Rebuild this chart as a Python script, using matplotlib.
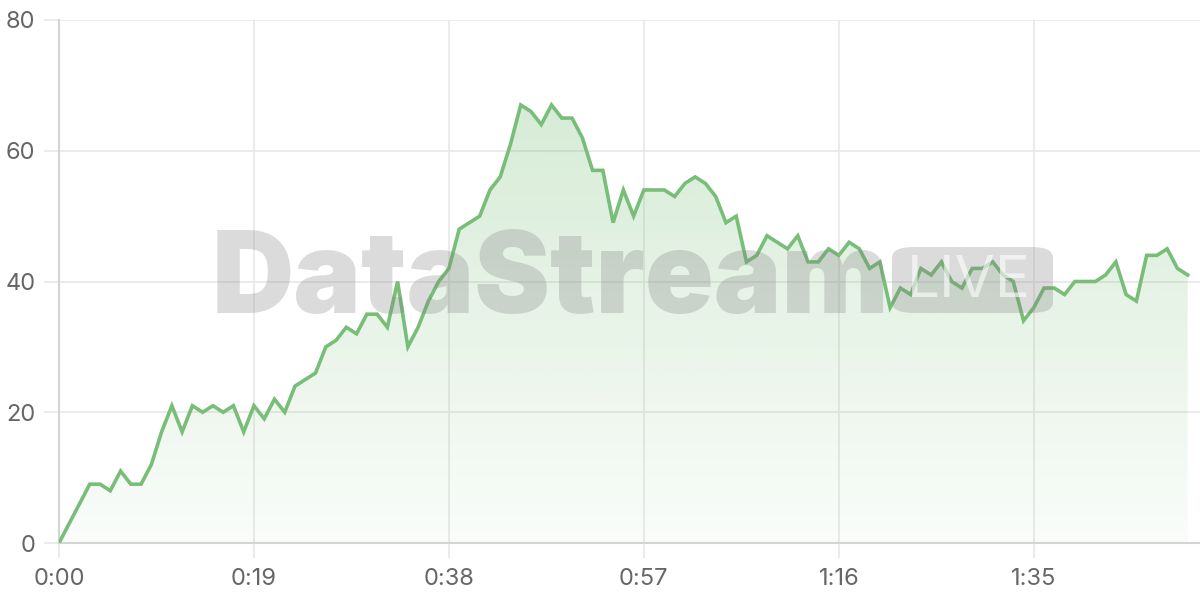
#live viewers chart
#draw a line chart with gradient fill and a watermark
#install lib: matplotlib, numpy

import matplotlib.pyplot as plt
import numpy as np
from matplotlib.patches import FancyBboxPatch

# one value per second, 0:00 .. 1:50
viewers = [0, 3, 6, 9, 9, 8, 11, 9, 9, 12,
           17, 21, 17, 21, 20, 21, 20, 21, 17, 21,
           19, 22, 20, 24, 25, 26, 30, 31, 33, 32,
           35, 35, 33, 40, 30, 33, 37, 40, 42, 48,
           49, 50, 54, 56, 61, 67, 66, 64, 67, 65,
           65, 62, 57, 57, 49, 54, 50, 54, 54, 54,
           53, 55, 56, 55, 53, 49, 50, 43, 44, 47,
           46, 45, 47, 43, 43, 45, 44, 46, 45, 42,
           43, 36, 39, 38, 42, 41, 43, 40, 39, 42,
           42, 43, 41, 40, 34, 36, 39, 39, 38, 40,
           40, 40, 41, 43, 38, 37, 44, 44, 45, 42,
           41]
seconds = list(range(len(viewers)))

x_ticks = [0, 19, 38, 57, 76, 95]
x_tick_labels = ["0:00", "0:19", "0:38", "0:57", "1:16", "1:35"]
y_ticks = [0, 20, 40, 60, 80]

line_color = "#78be78"
grid_color = "#e8e8e8"
text_color = "#666666"

plt.rcParams['font.family'] = ['Inter', 'DejaVu Sans']

W, H = 1200, 600
fig = plt.figure(figsize=(12, 6), dpi=100)
ax = fig.add_axes([59 / W, 57 / H, 1 - 59 / W, 523 / H])

ax.set_xlim(0, 111.2)
ax.set_ylim(0, 80)

# gradient fill under the line
fill = ax.fill_between(seconds, viewers, 0, color="none")
grad = np.linspace(0.04, 0.30, 256).reshape(-1, 1)
rgba = np.zeros((256, 1, 4))
rgba[..., 0] = 120 / 255
rgba[..., 1] = 190 / 255
rgba[..., 2] = 120 / 255
rgba[..., 3] = grad
img = ax.imshow(rgba, extent=[0, seconds[-1], 0, max(viewers)], origin="lower",
                aspect="auto", zorder=1)
img.set_clip_path(fill.get_paths()[0], transform=ax.transData)

ax.plot(seconds, viewers, color=line_color, linewidth=2.6, zorder=4,
        solid_joinstyle="miter")

# watermark, sized so it spans the same width as in the original
renderer = fig.canvas.get_renderer()

wm = fig.text(212 / W, 1 - 313 / H, "DataStream", fontsize=80, fontweight="black",
              color="#808080", alpha=0.28, ha="left", va="baseline", zorder=3)
w = wm.get_window_extent(renderer).width
wm.set_fontsize(80 * 678 / w)

box = FancyBboxPatch((892 / W, 1 - 313 / H), 161 / W, 66 / H,
                     boxstyle="round,pad=0,rounding_size=0.018",
                     transform=fig.transFigure, facecolor="#808080", alpha=0.28,
                     edgecolor="none", zorder=3)
fig.add_artist(box)
live = fig.text(969 / W, 1 - 297 / H, "LIVE", fontsize=34,
                color="white", alpha=0.6, ha="center", va="baseline", zorder=3)
w = live.get_window_extent(renderer).width
live.set_fontsize(34 * 124 / w)

ax.set_xticks(x_ticks)
ax.set_xticklabels(x_tick_labels)
ax.set_yticks(y_ticks)
ax.grid(True, color=grid_color, linewidth=1.2, zorder=0)
ax.set_axisbelow(True)

ax.tick_params(axis="both", colors=grid_color, labelcolor=text_color,
               labelsize=17, width=1.2)
ax.tick_params(axis="x", length=11, pad=7)
ax.tick_params(axis="y", length=11, pad=6)

for side in ["top", "right"]:
    ax.spines[side].set_visible(False)
for side in ["left", "bottom"]:
    ax.spines[side].set_color("#d4d4d4")
    ax.spines[side].set_linewidth(1.5)

fig.savefig("out.png", dpi=100)
